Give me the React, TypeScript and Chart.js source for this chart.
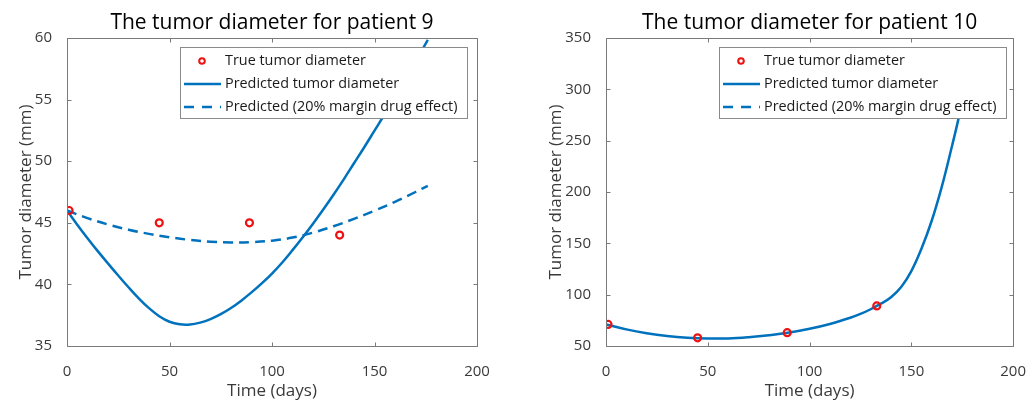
import React, { useEffect, useRef } from "react";
import { Chart, registerables } from "chart.js";

Chart.register(...registerables);

// ---------- DATA ----------
const xTickValues = [0, 50, 100, 150, 200];

// Patient 9
const p9TrueDays = [1, 45, 89, 133];
const p9TrueDiam = [46, 45, 45, 44];
const p9PredDays = [0, 5, 10, 15, 20, 25, 30, 35, 40, 45, 50, 55, 60, 65, 70, 75, 80, 85, 90, 95, 100, 105, 110, 115, 120, 125, 130, 135, 140, 145, 150, 155, 160, 165, 170, 176];
const p9PredDiam = [46.0, 44.85, 43.75, 42.7, 41.7, 40.72, 39.77, 38.87, 38.07, 37.42, 36.97, 36.76, 36.74, 36.9, 37.18, 37.58, 38.08, 38.68, 39.35, 40.08, 40.88, 41.78, 42.78, 43.83, 44.93, 46.08, 47.28, 48.53, 49.83, 51.13, 52.48, 53.83, 55.23, 56.63, 58.08, 59.85];
const p9MarginDays = [0, 10, 20, 30, 40, 50, 60, 70, 80, 90, 100, 110, 120, 130, 140, 150, 160, 170, 176];
const p9MarginDiam = [46.0, 45.38, 44.86, 44.44, 44.1, 43.83, 43.61, 43.47, 43.4, 43.43, 43.55, 43.8, 44.2, 44.72, 45.32, 45.98, 46.7, 47.5, 48.0];
const p9YTicks = [35, 40, 45, 50, 55, 60];

// Patient 10
const p10TrueDays = [1, 45, 89, 133];
const p10TrueDiam = [71, 58, 63, 89];
const p10PredDays = [0, 10, 20, 30, 40, 50, 60, 70, 80, 90, 100, 110, 120, 125, 130, 135, 140, 145, 150, 155, 160, 165, 170, 173, 176];
const p10PredDiam = [71.0, 66.2, 62.5, 59.8, 58.1, 57.3, 57.4, 58.6, 60.5, 63.1, 66.8, 71.5, 77.5, 81.2, 85.8, 91.2, 97.5, 107.5, 123.0, 145.0, 172.0, 205.5, 245.0, 270.0, 298.0];
const p10MarginDays: number[] = [];
const p10MarginDiam: number[] = [];
const p10YTicks = [50, 100, 150, 200, 250, 300, 350];

const legendLabels = ["True tumor diameter", "Predicted tumor diameter", "Predicted (20% margin drug effect)"];

// ---------- STYLE ----------
const FONT = "'Open Sans', 'Noto Sans', 'DejaVu Sans', sans-serif";
const BLUE = "#0072BD";
const RED = "#ee1111";
const AXIS_GRAY = "#7a7a7a";
const TEXT_GRAY = "#3a3a3a";

const zip = (xs: number[], ys: number[]) => xs.map((x, i) => ({ x, y: ys[i] }));

const boxTicksPlugin = {
  id: "boxTicks",
  afterDatasetsDraw(chart: any) {
    const { ctx, chartArea: a, scales } = chart;
    const xs = scales.x;
    const ys = scales.y;
    const L = Math.round(a.left) + 0.5;
    const R = Math.round(a.right) + 0.5;
    const T = Math.round(a.top) + 0.5;
    const B = Math.round(a.bottom) + 0.5;
    const tl = 4;
    ctx.save();
    ctx.strokeStyle = AXIS_GRAY;
    ctx.lineWidth = 1;
    ctx.beginPath();
    ctx.rect(L, T, R - L, B - T);
    xs.ticks.forEach((t: any) => {
      const px = Math.round(xs.getPixelForValue(t.value)) + 0.5;
      ctx.moveTo(px, B);
      ctx.lineTo(px, B - tl);
      ctx.moveTo(px, T);
      ctx.lineTo(px, T + tl);
    });
    ys.ticks.forEach((t: any) => {
      const py = Math.round(ys.getPixelForValue(t.value)) + 0.5;
      ctx.moveTo(L, py);
      ctx.lineTo(L + tl, py);
      ctx.moveTo(R, py);
      ctx.lineTo(R - tl, py);
    });
    ctx.stroke();
    ctx.restore();
  },
};

const boxLegendPlugin = {
  id: "boxLegend",
  afterDraw(chart: any, _args: any, o: any) {
    const { ctx } = chart;
    ctx.save();
    ctx.fillStyle = "#ffffff";
    ctx.fillRect(o.left, o.top, o.width, o.height);
    ctx.strokeStyle = "#8a8a8a";
    ctx.lineWidth = 1;
    ctx.strokeRect(o.left + 0.5, o.top + 0.5, o.width, o.height);
    ctx.font = `14.4px ${FONT}`;
    ctx.textBaseline = "middle";
    ctx.textAlign = "left";
    chart.data.datasets.forEach((ds: any, i: number) => {
      const y = o.top + o.rowStart + i * o.rowGap;
      if (ds.showLine === false) {
        ctx.beginPath();
        ctx.strokeStyle = ds.pointBorderColor;
        ctx.lineWidth = 2;
        ctx.arc(o.left + o.markerX, y, 2.8, 0, Math.PI * 2);
        ctx.stroke();
      } else {
        ctx.beginPath();
        ctx.strokeStyle = ds.borderColor;
        ctx.lineWidth = ds.borderWidth;
        ctx.setLineDash(ds.borderDash ? [10, 8] : []);
        ctx.moveTo(o.left + o.lineX0, y);
        ctx.lineTo(o.left + o.lineX1, y);
        ctx.stroke();
        ctx.setLineDash([]);
      }
      ctx.fillStyle = "#1a1a1a";
      ctx.fillText(ds.label, o.left + o.textX, y);
    });
    ctx.restore();
  },
};

interface PanelProps {
  title: string;
  trueDays: number[];
  trueDiam: number[];
  predDays: number[];
  predDiam: number[];
  marginDays: number[];
  marginDiam: number[];
  yTicks: number[];
  width: number;
  yAxisWidth: number;
  padRight: number;
  yTitlePad: number;
  legendLeft: number;
}

function Panel(p: PanelProps) {
  const ref = useRef<HTMLCanvasElement>(null);
  useEffect(() => {
    const canvas = ref.current!;
    const yMin = p.yTicks[0];
    const yMax = p.yTicks[p.yTicks.length - 1];
    const yStep = p.yTicks[1] - p.yTicks[0];
    const chart = new Chart(canvas, {
      type: "line",
      data: {
        datasets: [
          {
            label: legendLabels[0],
            data: zip(p.trueDays, p.trueDiam),
            showLine: false,
            pointRadius: 3.5,
            pointBorderWidth: 2.2,
            pointBorderColor: RED,
            pointBackgroundColor: "rgba(0,0,0,0)",
            borderColor: RED,
          } as any,
          {
            label: legendLabels[1],
            data: zip(p.predDays, p.predDiam),
            borderColor: BLUE,
            borderWidth: 2.5,
            pointRadius: 0,
            tension: 0.4,
            fill: false,
          },
          {
            label: legendLabels[2],
            data: zip(p.marginDays, p.marginDiam),
            borderColor: BLUE,
            borderWidth: 2.5,
            borderDash: [10, 6],
            pointRadius: 0,
            tension: 0.4,
            fill: false,
          },
        ],
      },
      options: {
        animation: false,
        responsive: false,
        devicePixelRatio: 1,
        layout: { padding: { left: 0, right: p.padRight, top: 0, bottom: 0 } },
        scales: {
          x: {
            type: "linear",
            min: xTickValues[0],
            max: xTickValues[xTickValues.length - 1],
            afterBuildTicks: (s: any) => {
              s.ticks = xTickValues.map((v) => ({ value: v }));
            },
            afterFit: (s: any) => {
              s.height = 55;
            },
            grid: { display: false },
            border: { display: false },
            ticks: {
              color: TEXT_GRAY,
              font: { family: FONT, size: 15 },
              padding: 9,
              maxRotation: 0,
            },
            title: {
              display: true,
              text: "Time (days)",
              color: TEXT_GRAY,
              font: { family: FONT, size: 17 },
              padding: { top: 0, bottom: 0 },
            },
          },
          y: {
            type: "linear",
            min: yMin,
            max: yMax,
            afterBuildTicks: (s: any) => {
              s.ticks = p.yTicks.map((v) => ({ value: v }));
            },
            afterFit: (s: any) => {
              s.width = p.yAxisWidth;
            },
            grid: { display: false },
            border: { display: false },
            ticks: {
              color: TEXT_GRAY,
              font: { family: FONT, size: 15 },
              padding: 7,
              stepSize: yStep,
            },
            title: {
              display: true,
              text: "Tumor diameter (mm)",
              color: TEXT_GRAY,
              font: { family: FONT, size: 17 },
              padding: { top: p.yTitlePad, bottom: 0 },
            },
          },
        },
        plugins: {
          legend: { display: false },
          tooltip: { enabled: false },
          title: {
            display: true,
            text: p.title,
            color: "#000000",
            font: { family: FONT, size: 21, weight: "normal" },
            padding: { top: 10.7, bottom: 2.1 },
            fullSize: false,
          },
          boxLegend: {
            left: p.legendLeft,
            top: 47,
            width: 287,
            height: 71,
            rowStart: 14,
            rowGap: 23,
            markerX: 22,
            lineX0: 4,
            lineX1: 41,
            textX: 45,
          },
        } as any,
      },
      plugins: [boxTicksPlugin, boxLegendPlugin],
    } as any);
    return () => chart.destroy();
  }, []);
  return (
    <canvas
      ref={ref}
      width={p.width}
      height={401}
      style={{ width: p.width, height: 401, display: "block" }}
    />
  );
}

export default function App() {
  return (
    <div
      style={{
        position: "absolute",
        left: 0,
        top: 0,
        width: 1035,
        height: 401,
        background: "#ffffff",
        display: "flex",
      }}
    >
      <Panel
        title="The tumor diameter for patient 9"
        trueDays={p9TrueDays}
        trueDiam={p9TrueDiam}
        predDays={p9PredDays}
        predDiam={p9PredDiam}
        marginDays={p9MarginDays}
        marginDiam={p9MarginDiam}
        yTicks={p9YTicks}
        width={517}
        yAxisWidth={67}
        padRight={40}
        yTitlePad={15.6}
        legendLeft={180}
      />
      <Panel
        title="The tumor diameter for patient 10"
        trueDays={p10TrueDays}
        trueDiam={p10TrueDiam}
        predDays={p10PredDays}
        predDiam={p10PredDiam}
        marginDays={p10MarginDays}
        marginDiam={p10MarginDiam}
        yTicks={p10YTicks}
        width={518}
        yAxisWidth={89}
        padRight={19}
        yTitlePad={28.6}
        legendLeft={202}
      />
    </div>
  );
}
